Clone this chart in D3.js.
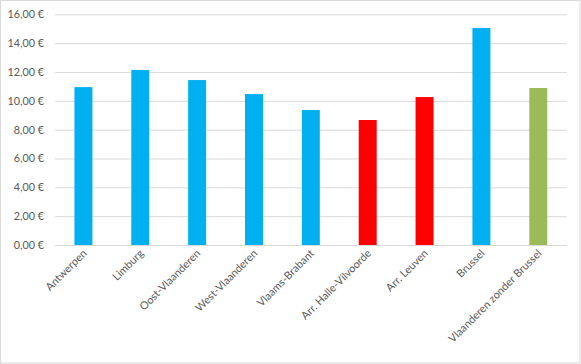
<!DOCTYPE html>
<html><head><meta charset="utf-8">
<script src="https://cdn.jsdelivr.net/npm/d3@7"></script>
<style>body{margin:0;background:#fff}svg{display:block}</style>
</head><body>
<script>
const categories = ["Antwerpen","Limburg","Oost-Vlaanderen","West-Vlaanderen","Vlaams-Brabant","Arr. Halle-Vilvoorde","Arr. Leuven","Brussel","Vlaanderen zonder Brussel"];
const values = [10.95, 12.14, 11.44, 10.47, 9.36, 8.67, 10.26, 15.05, 10.89];
const barColors = ["#00b0f0","#00b0f0","#00b0f0","#00b0f0","#00b0f0","#ff0000","#ff0000","#00b0f0","#9bbb59"];
const yTicks = [0,2,4,6,8,10,12,14,16];

const W = 581, H = 364;
const m = {left:55, right:14.3, top:14.3, bottom:119};
const svg = d3.select("body").append("svg").attr("width", W).attr("height", H);
svg.append("rect").attr("x",0.5).attr("y",0.5).attr("width",W-1.5).attr("height",H-1.5)
  .attr("fill","#fff").attr("stroke","#d9d9d9");

const x = d3.scaleBand().domain(categories).range([m.left, W-m.right]).paddingInner(0.684).paddingOuter(0.342);
const y = d3.scaleLinear().domain([0,16]).range([H-m.bottom, m.top]);
const font = "Lato, 'Open Sans', sans-serif";

const yAxis = svg.append("g").attr("transform",`translate(${m.left},0)`)
  .call(d3.axisLeft(y).tickValues(yTicks).tickSize(-(W-m.right-m.left)).tickPadding(11)
    .tickFormat(d => d3.format(".2f")(d).replace(".", ",") + " €"));
yAxis.select(".domain").remove();
yAxis.selectAll(".tick line").attr("stroke","#d9d9d9").attr("stroke-width",1);
yAxis.selectAll(".tick text").attr("fill","#595959").attr("font-size","10.8px").attr("font-family",font);

svg.append("g").selectAll("rect").data(values).join("rect")
  .attr("x",(d,i)=>x(categories[i])).attr("width",x.bandwidth())
  .attr("y",d=>y(d)).attr("height",d=>y(0)-y(d))
  .attr("fill",(d,i)=>barColors[i]);

const xAxis = svg.append("g").attr("transform",`translate(0,${H-m.bottom})`)
  .call(d3.axisBottom(x).tickSize(0).tickPadding(0));
xAxis.select(".domain").attr("stroke","#d9d9d9");
xAxis.selectAll(".tick text").attr("fill","#595959").attr("font-size","10.8px").attr("font-family",font)
  .attr("text-anchor","end").attr("dy",null)
  .attr("transform","translate(4,9) rotate(-45)");
</script>
</body></html>
